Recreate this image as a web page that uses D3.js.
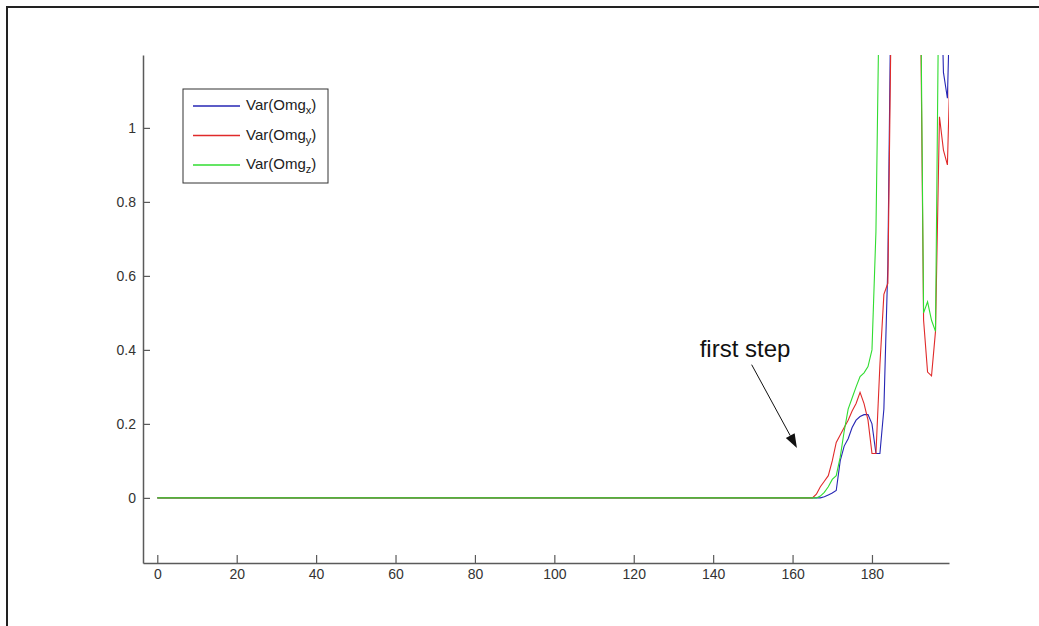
<!DOCTYPE html>
<html>
<head>
<meta charset="UTF-8">
<script src="https://d3js.org/d3.v7.min.js"></script>
<style>
  body { margin: 0; background: #fff; }
  svg text { font-family: Arial, "Liberation Sans", sans-serif; }
  .axis .domain { stroke: #5a5a5a; stroke-width: 1.5; }
  .axis .tick line { stroke: #5a5a5a; stroke-width: 1.2; }
  .axis text { fill: #333; font-size: 14px; }
</style>
<title>Var(Omg)</title>
</head>
<body>
<svg id="plot" width="1039" height="626"></svg>
<script>
  // sample index (flat at 0 from 0 to 165, then every step)
  const steps = [0, 165, 166, 167, 168, 169, 170, 171, 172, 173, 174, 175, 176, 177, 178, 179, 180,
                 181, 182, 183, 184, 185, 186, 187, 188, 189, 190, 191, 192, 193, 194, 195, 196,
                 197, 198, 199, 200];
  const varOmgX = [0, 0, 0, 0, 0.003, 0.008, 0.013, 0.02, 0.1, 0.14, 0.16, 0.19, 0.21, 0.22, 0.225, 0.225, 0.2,
                   0.12, 0.12, 0.24, 0.63, 1.6, 1.9, 2.3, 2.6, 2.4, 2.8, 3.0, 2.7, 2.2, 2.0, 1.9, 1.7,
                   1.6, 1.15, 1.08, 1.5];
  const varOmgY = [0, 0, 0.01, 0.03, 0.045, 0.06, 0.1, 0.15, 0.17, 0.19, 0.21, 0.235, 0.255, 0.285, 0.255, 0.21, 0.12,
                   0.12, 0.36, 0.55, 0.58, 1.46, 1.9, 2.2, 2.5, 2.3, 2.6, 2.4, 1.6, 0.48, 0.34, 0.33, 0.45,
                   1.03, 0.94, 0.9, 1.3];
  const varOmgZ = [0, 0, 0, 0.005, 0.015, 0.03, 0.05, 0.06, 0.11, 0.18, 0.24, 0.27, 0.3, 0.328, 0.338, 0.355, 0.4,
                   0.72, 1.5, 2.0, 2.3, 2.6, 2.8, 2.9, 3.1, 2.8, 2.6, 2.2, 1.7, 0.5, 0.53, 0.48, 0.45,
                   1.6, 1.9, 2.1, 2.2];

  const seriesNames = ["x", "y", "z"];
  const seriesColors = ["#2626b4", "#e02a2a", "#30dc30"];
  const xTicks = [0, 20, 40, 60, 80, 100, 120, 140, 160, 180];
  const yTicks = [0, 0.2, 0.4, 0.6, 0.8, 1];
  const xLimits = [-3.6, 199.4];
  const yLimits = [-0.176, 1.197];

  // annotation, in data units
  const noteText = "first step";
  const notePos = [136.6, 0.381];
  const arrowFrom = [149.7, 0.36];
  const arrowTo = [161.1, 0.135];

  const svg = d3.select("svg#plot");
  const margin = { top: 55, right: 90, bottom: 63, left: 143 };
  const width = +svg.attr("width");
  const height = +svg.attr("height");

  // outer frame
  svg.append("rect")
     .attr("x", 7).attr("y", 7)
     .attr("width", 1200).attr("height", 800)
     .attr("fill", "none").attr("stroke", "#222").attr("stroke-width", 2);

  const x = d3.scaleLinear().domain(xLimits).range([margin.left, width - margin.right]);
  const y = d3.scaleLinear().domain(yLimits).range([height - margin.bottom, margin.top]);

  svg.append("clipPath").attr("id", "box")
     .append("rect")
     .attr("x", x.range()[0]).attr("y", y.range()[1])
     .attr("width", x.range()[1] - x.range()[0])
     .attr("height", y.range()[0] - y.range()[1]);

  const series = [varOmgX, varOmgY, varOmgZ].map((v, i) => ({ values: v, color: seriesColors[i] }));
  const line = d3.line().x((d, i) => x(steps[i])).y(d => y(d));

  svg.append("g").attr("clip-path", "url(#box)")
     .selectAll("path").data(series).enter()
     .append("path")
     .attr("d", d => line(d.values))
     .attr("fill", "none")
     .attr("stroke", d => d.color)
     .attr("stroke-width", 1.1);

  // axes, MATLAB style ticks pointing inward
  svg.append("g")
     .attr("class", "axis")
     .attr("transform", "translate(0," + y.range()[0] + ")")
     .call(d3.axisBottom(x).tickValues(xTicks).tickSize(-8).tickSizeOuter(0).tickPadding(6));

  svg.append("g")
     .attr("class", "axis")
     .attr("transform", "translate(" + x.range()[0] + ",0)")
     .call(d3.axisLeft(y).tickValues(yTicks).tickFormat(d3.format("")).tickSize(-7).tickSizeOuter(0).tickPadding(7));

  // legend
  const legendItems = seriesNames.map((n, i) => ({ name: n, color: seriesColors[i] }));
  const legend = svg.append("g").attr("transform", "translate(183,89)");
  legend.append("rect")
        .attr("width", 145).attr("height", 94)
        .attr("fill", "#fff").attr("stroke", "#333").attr("stroke-width", 1);

  const rows = legend.selectAll("g.row").data(legendItems).enter()
        .append("g").attr("class", "row")
        .attr("transform", (d, i) => "translate(0," + (17 + i * 29.5) + ")");
  rows.append("line")
      .attr("x1", 10).attr("x2", 57)
      .attr("stroke", d => d.color).attr("stroke-width", 1.4);
  const label = rows.append("text")
      .attr("x", 63).attr("y", 4)
      .attr("font-size", 15).attr("fill", "#222");
  label.append("tspan").text("Var(Omg");
  label.append("tspan").attr("dy", 4).attr("font-size", 11).text(d => d.name);
  label.append("tspan").attr("dy", -4).text(")");

  // annotation
  svg.append("text")
     .attr("x", x(notePos[0])).attr("y", y(notePos[1]))
     .attr("font-size", 24).attr("fill", "#111")
     .text(noteText);

  const x0 = x(arrowFrom[0]), y0 = y(arrowFrom[1]);
  const x1 = x(arrowTo[0]), y1 = y(arrowTo[1]);
  const ang = Math.atan2(y1 - y0, x1 - x0);
  const headLen = 14, headHalf = 5;
  const bx = x1 - headLen * Math.cos(ang), by = y1 - headLen * Math.sin(ang);
  svg.append("line")
     .attr("x1", x0).attr("y1", y0).attr("x2", bx).attr("y2", by)
     .attr("stroke", "#111").attr("stroke-width", 1);
  svg.append("path")
     .attr("d", "M" + x1 + "," + y1 +
                "L" + (bx + headHalf * Math.sin(ang)) + "," + (by - headHalf * Math.cos(ang)) +
                "L" + (bx - headHalf * Math.sin(ang)) + "," + (by + headHalf * Math.cos(ang)) + "Z")
     .attr("fill", "#111");
</script>
</body>
</html>
